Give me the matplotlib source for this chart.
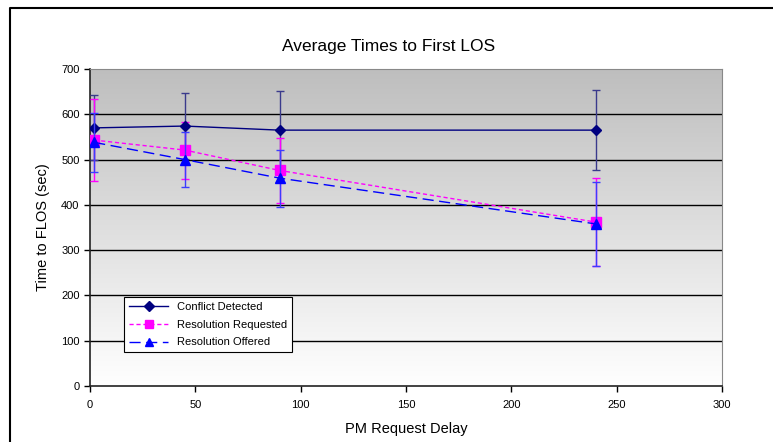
import matplotlib.pyplot as plt
import numpy as np
from matplotlib.lines import Line2D

plt.rcParams["font.family"] = ["Liberation Sans", "DejaVu Sans"]

delay = [2, 45, 90, 240]

detected = [570, 574, 565, 565]
detected_err = [72, 72, 87, 88]

requested = [543, 521, 476, 362]
requested_err = [91, 63, 72, 97]

offered = [538, 500, 459, 358]
offered_err = [65, 60, 63, 92]

yticks = [0, 100, 200, 300, 400, 500, 600, 700]
xticks = [0, 50, 100, 150, 200, 250, 300]

fig = plt.figure(figsize=(7.73, 4.42), dpi=100)
ax = fig.add_axes([90 / 773, 1 - 386 / 442, 632 / 773, 317 / 442])

# grey-to-white gradient like the Excel plot area
grad = np.linspace(1.0, 0.0, 256).reshape(-1, 1)
ax.imshow(grad, extent=[0, 1, 0, 1], transform=ax.transAxes, aspect="auto",
          cmap=plt.matplotlib.colors.LinearSegmentedColormap.from_list("g", ["#ffffff", "#bebebe"]),
          zorder=0)

for y in yticks[1:-1]:
    ax.axhline(y, color="black", lw=1.0, zorder=1)

ax.errorbar(delay, detected, yerr=detected_err, color="#000080", ecolor="#3a3a8c",
            marker="D", ms=5.5, lw=1.0, elinewidth=1.0, capsize=3, zorder=3)
ax.errorbar(delay, requested, yerr=requested_err, color="#ff00ff", ecolor="#ff00ff",
            marker="s", ms=7.5, lw=1.0, ls=(0, (3, 2)), elinewidth=1.0, capsize=3, zorder=3)
ax.errorbar(delay, offered, yerr=offered_err, color="#0000ff", ecolor="#3c3cff",
            marker="^", ms=7.5, lw=1.0, ls=(0, (8, 4)), elinewidth=1.0, capsize=3, zorder=4)

ax.set_xlim(0, 300)
ax.set_ylim(0, 700)
ax.set_xticks(xticks)
ax.set_yticks(yticks)
ax.tick_params(labelsize=8, length=4, width=1, direction="out")
ax.tick_params(axis="x", pad=6)
for side in ["left", "bottom"]:
    ax.spines[side].set_color("#222222")
    ax.spines[side].set_linewidth(1.2)
for side in ["top", "right"]:
    ax.spines[side].set_color("#888888")

ax.set_xlabel("PM Request Delay", fontsize=10.5, labelpad=9)
ax.set_ylabel("Time to FLOS (sec)", fontsize=10.5, labelpad=8)
fig.text(389 / 773, 1 - 46 / 442, "Average Times to First LOS", fontsize=12.5,
         ha="center", va="center")

handles = [
    Line2D([], [], color="#000080", marker="D", ms=5, lw=1.0),
    Line2D([], [], color="#ff00ff", marker="s", ms=6, lw=1.0, ls=(0, (3, 2))),
    Line2D([], [], color="#0000ff", marker="^", ms=6, lw=1.0, ls=(0, (8, 4))),
]
leg = ax.legend(handles, ["Conflict Detected", "Resolution Requested", "Resolution Offered"],
                loc="upper left", bbox_to_anchor=(0.054, 0.281), fontsize=8,
                fancybox=False, framealpha=1, edgecolor="black", borderpad=0.45,
                labelspacing=0.7, handlelength=3.5, borderaxespad=0)
leg.get_frame().set_linewidth(0.8)

# outer chart border (left and top edges)
fig.add_artist(Line2D([10 / 773, 10 / 773, 1], [0, 1 - 8 / 442, 1 - 8 / 442],
                      color="black", lw=1.5))

fig.savefig("out.png", dpi=100)
